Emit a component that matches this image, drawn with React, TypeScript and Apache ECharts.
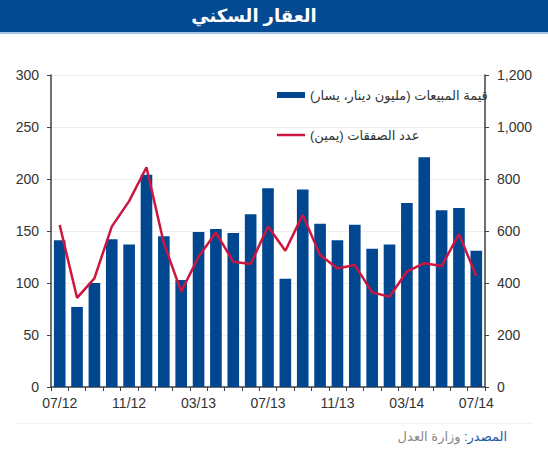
import React, { useEffect, useRef } from "react";
import * as echarts from "echarts";

const categories = [
  "07/12", "08/12", "09/12", "10/12", "11/12", "12/12", "01/13", "02/13", "03/13",
  "04/13", "05/13", "06/13", "07/13", "08/13", "09/13", "10/13", "11/13", "12/13",
  "01/14", "02/14", "03/14", "04/14", "05/14", "06/14", "07/14",
];
const salesValue = [
  141, 77, 100, 142, 137, 204, 145, 103, 149, 152, 148, 166, 191,
  104, 190, 157, 141, 156, 133, 137, 177, 221, 170, 172, 131,
];
const dealsCount = [
  623, 343, 418, 617, 715, 845, 553, 367, 501, 594, 482, 473, 617,
  524, 662, 508, 456, 469, 364, 347, 444, 476, 465, 588, 427,
];
const leftTicks = [0, 50, 100, 150, 200, 250, 300];
const rightTicks = [0, 200, 400, 600, 800, 1000, 1200];

const titleText = "العقار السكني";
const salesName = "قيمة المبيعات (مليون دينار، يسار)";
const dealsName = "عدد الصفقات (يمين)";
const sourceLabel = ":المصدر";
const sourceText = "وزارة العدل";

const FONT = "Arial, 'Liberation Sans', 'DejaVu Sans', sans-serif";

export default function App() {
  const ref = useRef<HTMLDivElement>(null);
  useEffect(() => {
    if (!ref.current) return;
    const chart = echarts.init(ref.current, undefined, { renderer: "svg" });
    chart.setOption({
      animation: false,
      backgroundColor: "#ffffff",
      textStyle: { fontFamily: FONT },
      grid: { left: 51, right: 63, top: 75, bottom: 63 },
      legend: {
        orient: "vertical",
        left: 272,
        top: 82,
        align: "left",
        itemWidth: 28,
        itemHeight: 6,
        itemGap: 24,
        symbolKeepAspect: true,
        textStyle: { fontSize: 13, color: "#333333", fontFamily: FONT, lineHeight: 16 },
        data: [
          { name: salesName, icon: "rect" },
          { name: dealsName, icon: "path://M0,0h28v2.5h-28z" },
        ],
      },
      xAxis: {
        type: "category",
        data: categories,
        boundaryGap: true,
        axisLine: { lineStyle: { color: "#404040", width: 1.5 } },
        axisTick: { show: true, interval: 0, length: 4, lineStyle: { color: "#404040" } },
        axisLabel: {
          interval: 3,
          fontSize: 14,
          color: "#333333",
          margin: 9,
          fontFamily: FONT,
        },
      },
      yAxis: [
        {
          type: "value",
          min: leftTicks[0],
          max: leftTicks[leftTicks.length - 1],
          interval: 50,
          axisLine: { show: true, lineStyle: { color: "#404040", width: 1.5 } },
          axisTick: { show: true, length: 4, lineStyle: { color: "#404040" } },
          axisLabel: { fontSize: 14, color: "#333333", margin: 12, fontFamily: FONT },
          splitLine: { show: true, lineStyle: { color: "#eeeeee", width: 1 } },
        },
        {
          type: "value",
          min: rightTicks[0],
          max: rightTicks[rightTicks.length - 1],
          interval: 200,
          position: "right",
          axisLine: { show: true, lineStyle: { color: "#404040", width: 1.5 } },
          axisTick: { show: true, length: 4, lineStyle: { color: "#404040" } },
          axisLabel: {
            fontSize: 14,
            color: "#333333",
            margin: 12,
            fontFamily: FONT,
            formatter: (v: number) => v.toLocaleString("en-US"),
          },
          splitLine: { show: false },
        },
      ],
      series: [
        {
          name: salesName,
          type: "bar",
          data: salesValue,
          yAxisIndex: 0,
          barWidth: "67%",
          itemStyle: { color: "#00478f" },
        },
        {
          name: dealsName,
          type: "line",
          data: dealsCount,
          yAxisIndex: 1,
          symbol: "none",
          lineStyle: { color: "#cc1540", width: 2.5 },
          itemStyle: { color: "#cc1540" },
        },
      ],
      graphic: [
        {
          type: "rect",
          shape: { x: 0, y: 0, width: 548, height: 32 },
          style: { fill: "#034a92" },
        },
        {
          type: "rect",
          shape: { x: 0, y: 32, width: 548, height: 2 },
          style: { fill: "#a8c4e6" },
        },
        {
          type: "text",
          x: 254,
          y: 16,
          style: {
            text: titleText,
            fill: "#ffffff",
            font: "bold 18px Arial, 'DejaVu Sans', sans-serif",
            align: "center",
            verticalAlign: "middle",
          },
        },
        {
          type: "rect",
          shape: { x: 15, y: 423, width: 518, height: 1 },
          style: { fill: "#f2f2f2" },
        },
        {
          type: "text",
          x: 507,
          y: 436,
          style: {
            text: "{g|" + sourceText + "} {b|" + sourceLabel + "}",
            align: "right",
            verticalAlign: "middle",
            rich: {
              g: { fill: "#888888", fontSize: 13, fontFamily: FONT },
              b: { fill: "#1c5aa6", fontSize: 13, fontFamily: FONT },
            },
          },
        },
      ],
    });
    return () => chart.dispose();
  }, []);
  return (
    <div
      ref={ref}
      style={{ position: "fixed", left: 0, top: 0, width: 548, height: 450 }}
    />
  );
}
